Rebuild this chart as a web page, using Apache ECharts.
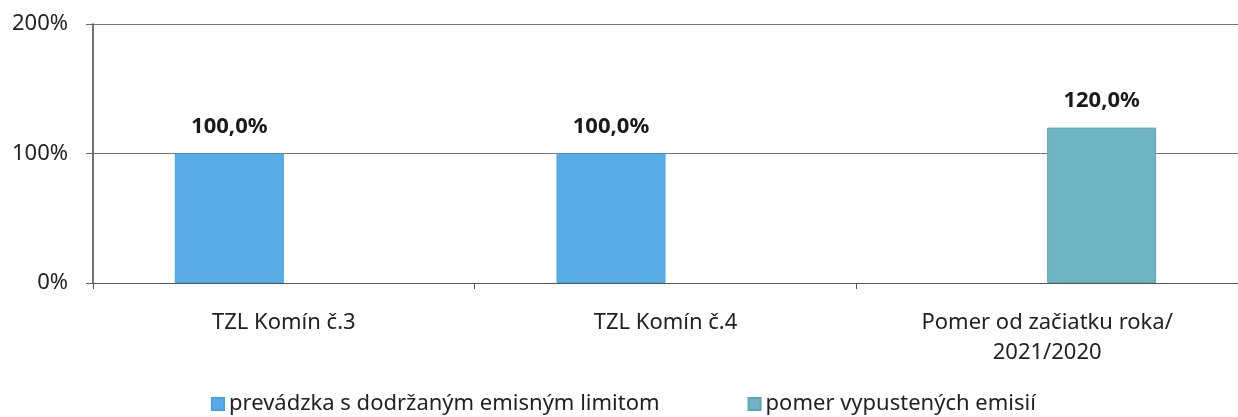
<!DOCTYPE html>
<html>
<head>
<meta charset="utf-8">
<script src="https://cdn.jsdelivr.net/npm/echarts@6/dist/echarts.min.js"></script>
<style>
  html, body { margin: 0; padding: 0; background: #fff; }
  #chart { width: 1238px; height: 417px; }
</style>
</head>
<body>
<div id="chart"></div>
<script>
const categories = ['TZL Komín č.3', 'TZL Komín č.4', 'Pomer od začiatku roka/\n2021/2020']
const seriesNames = ['prevádzka s dodržaným emisným limitom', 'pomer vypustených emisií']
const compliance = [100, 100, '-']
const emissionRatio = ['-', '-', 120]
const yTicks = [0, 100, 200]

const font = '"Noto Sans", sans-serif'
const pct = (v) => v.toFixed(1).replace('.', ',') + '%'

const chart = echarts.init(document.getElementById('chart'))
chart.setOption({
  animation: false,
  textStyle: { fontFamily: font },
  grid: { left: 93, right: 0, top: 24, bottom: 134 },
  legend: {
    left: 206,
    top: 388,
    itemWidth: 12,
    itemHeight: 12,
    itemGap: 88,
    icon: 'rect',
    textStyle: { fontSize: 22, color: '#222', fontFamily: font },
    data: seriesNames
  },
  xAxis: {
    type: 'category',
    data: categories,
    axisLine: { lineStyle: { color: '#555', width: 1 } },
    axisTick: { show: true, length: 6, lineStyle: { color: '#555' } },
    axisLabel: { fontSize: 22, color: '#222', margin: 25, lineHeight: 30, interval: 0 }
  },
  yAxis: {
    type: 'value',
    min: yTicks[0],
    max: yTicks[yTicks.length - 1],
    interval: 100,
    axisLine: { show: true, lineStyle: { color: '#444', width: 1.5 } },
    axisTick: { show: true, length: 7, lineStyle: { color: '#666' } },
    splitLine: { lineStyle: { color: '#777', width: 1.2 } },
    axisLabel: { fontSize: 22, color: '#222', margin: 25, formatter: '{value}%' }
  },
  series: [
    {
      name: seriesNames[0],
      type: 'bar',
      data: compliance,
      barWidth: 109,
      barGap: '0%',
      itemStyle: { color: '#5aade4', borderColor: '#3ea6ea', borderWidth: 1 },
      label: {
        show: true, position: 'top', distance: 16,
        fontSize: 22, fontWeight: 'bold', color: '#1a1a1a',
        formatter: (p) => pct(p.value)
      }
    },
    {
      name: seriesNames[1],
      type: 'bar',
      data: emissionRatio,
      barWidth: 109,
      itemStyle: { color: '#6fb4c3', borderColor: '#5aa6b6', borderWidth: 1 },
      label: {
        show: true, position: 'top', distance: 16,
        fontSize: 22, fontWeight: 'bold', color: '#1a1a1a',
        formatter: (p) => pct(p.value)
      }
    }
  ]
})
</script>
</body>
</html>
